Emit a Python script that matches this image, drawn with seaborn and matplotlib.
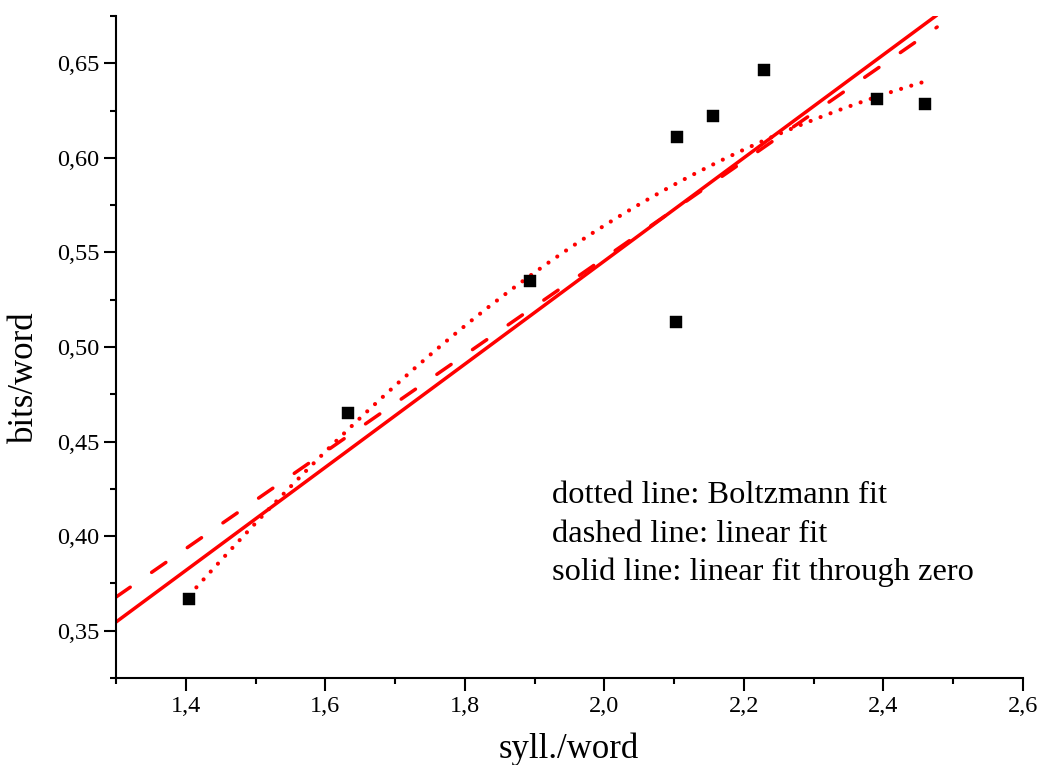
import numpy as np
import matplotlib
matplotlib.use("Agg")
import matplotlib.pyplot as plt
from matplotlib.ticker import FixedLocator, FixedFormatter
import seaborn as sns

# Measured values: mean syllables per word vs. information per word
syll_per_word = [1.405, 1.633, 1.893, 2.104, 2.103, 2.156, 2.229, 2.391, 2.459]
bits_per_word = [0.367, 0.465, 0.535, 0.611, 0.513, 0.622, 0.6465, 0.631, 0.6285]

# Boltzmann fit parameters: y = A2 + (A1 - A2) / (1 + exp((x - x0) / dx))
boltz_A1 = -0.124
boltz_A2 = 0.697
boltz_x0 = 1.21
boltz_dx = 0.48

# Range over which the straight fit lines are drawn
fit_line_range = [1.3, 2.477]

x_major = [1.4, 1.6, 1.8, 2.0, 2.2, 2.4, 2.6]
x_major_labels = ["1,4", "1,6", "1,8", "2,0", "2,2", "2,4", "2,6"]
x_minor = [1.3, 1.5, 1.7, 1.9, 2.1, 2.3, 2.5]
y_major = [0.35, 0.40, 0.45, 0.50, 0.55, 0.60, 0.65]
y_major_labels = ["0,35", "0,40", "0,45", "0,50", "0,55", "0,60", "0,65"]
y_minor = [0.325, 0.375, 0.425, 0.475, 0.525, 0.575, 0.625, 0.675]

notes = ["dotted line: Boltzmann fit",
         "dashed line: linear fit",
         "solid line: linear fit through zero"]

sns.set_style("ticks")
plt.rcParams["font.family"] = ["Liberation Serif", "DejaVu Serif"]
plt.rcParams["text.color"] = "black"

fig = plt.figure(figsize=(10.41, 7.65), dpi=100)
ax = fig.add_axes([0.1114, 0.1137, 0.8713, 0.8653])

x = np.asarray(syll_per_word)
y = np.asarray(bits_per_word)

# Least-squares fits
slope, intercept = np.polyfit(x, y, 1)
slope0 = np.sum(x * y) / np.sum(x * x)

xl = np.linspace(fit_line_range[0], fit_line_range[1], 50)
xb = np.linspace(x.min(), x.max(), 200)
yb = boltz_A2 + (boltz_A1 - boltz_A2) / (1 + np.exp((xb - boltz_x0) / boltz_dx))

red = "#ff0000"
sns.lineplot(x=xl, y=slope0 * xl, ax=ax, color=red, linewidth=2.5,
             solid_capstyle="butt", sort=False, estimator=None)
sns.lineplot(x=xl, y=intercept + slope * xl, ax=ax, color=red, linewidth=2.5,
             linestyle=(0, (5.0, 7.5)), dash_capstyle="round",
             sort=False, estimator=None)
sns.lineplot(x=xb, y=yb, ax=ax, color=red, linewidth=3.0,
             linestyle=(0, (0.01, 2.55)), dash_capstyle="round",
             sort=False, estimator=None)
sns.scatterplot(x=x, y=y, ax=ax, marker="s", s=70, color="black",
                edgecolor="black", linewidth=0.3, zorder=5)

ax.set_xlim(1.3, 2.6)
ax.set_ylim(0.325, 0.675)
ax.xaxis.set_major_locator(FixedLocator(x_major))
ax.xaxis.set_major_formatter(FixedFormatter(x_major_labels))
ax.xaxis.set_minor_locator(FixedLocator(x_minor))
ax.yaxis.set_major_locator(FixedLocator(y_major))
ax.yaxis.set_major_formatter(FixedFormatter(y_major_labels))
ax.yaxis.set_minor_locator(FixedLocator(y_minor))

sns.despine(ax=ax)
for side in ("left", "bottom"):
    ax.spines[side].set_linewidth(1.5)
    ax.spines[side].set_color("black")

ax.tick_params(which="major", direction="out", length=9, width=1.5,
               labelsize=17.5, colors="black", labelcolor="black", pad=3)
ax.tick_params(which="minor", direction="out", length=4.5, width=1.5,
               colors="black")
ax.tick_params(axis="x", which="major", pad=4)
ax.set_xlabel("")
ax.set_ylabel("")

fig.text(569 / 1041, 1 - 758 / 765, "syll./word", fontsize=25,
         ha="center", va="baseline", color="black")
fig.text(24 / 1041, 1 - 377 / 765, "bits/word", fontsize=25,
         ha="center", va="center", rotation=90, color="black")

for i, line in enumerate(notes):
    fig.text(552 / 1041, 1 - (503 + 38.5 * i) / 765, line, fontsize=23.4,
             ha="left", va="baseline", color="black")

fig.savefig("out.png", dpi=100)
